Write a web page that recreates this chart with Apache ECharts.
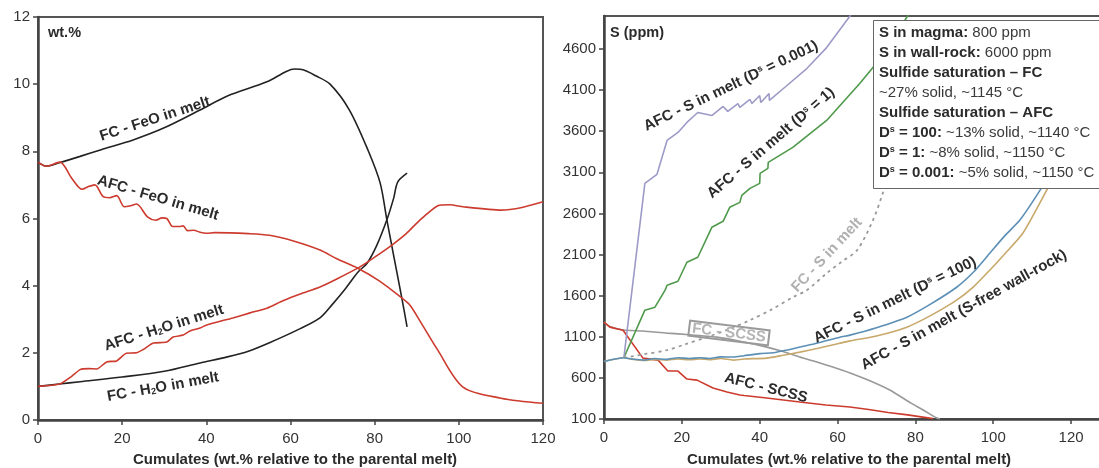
<!DOCTYPE html>
<html>
<head>
<meta charset="utf-8">
<title>FeO, H2O and S in melt</title>
<script src="https://cdn.jsdelivr.net/npm/echarts@6/dist/echarts.min.js"></script>
<style>
html, body { margin: 0; padding: 0; background: #fff; }
#chart { width: 1099px; height: 468px; }
</style>
</head>
<body>
<div id="chart"></div>
<script>
// left panel (wt.%)
var fcFeoX = [0, 2, 5, 10, 15, 22.6, 30, 38.5, 45, 54.4, 59, 61, 63, 66, 69.4, 74, 78.4, 81.3, 82.9, 84.4, 86.5, 87.7];
var fcFeoY = [7.68, 7.56, 7.66, 7.85, 8.05, 8.34, 8.7, 9.23, 9.65, 10.07, 10.38, 10.45, 10.43, 10.25, 10.0, 9.23, 8.04, 7.06, 5.96, 4.97, 3.6, 2.77];

var fcH2oX = [0, 5, 10, 20, 30, 38.5, 45, 50, 55, 62.3, 67, 70, 73, 76, 78.2, 80.5, 82.9, 84.5, 85.5, 87.7];
var fcH2oY = [1.0, 1.07, 1.14, 1.28, 1.45, 1.70, 1.88, 2.05, 2.3, 2.72, 3.04, 3.45, 3.9, 4.4, 4.67, 5.2, 5.96, 6.6, 7.09, 7.35];

var afcFeoX = [0, 2, 5.2, 8, 10.5, 12, 13.5, 15.5, 17, 18.7, 20.5, 22, 23.4, 26, 28, 29.5, 30.6, 32, 33.5, 34.5, 35.5, 37, 38.5, 40, 42, 50, 55, 60.7, 67, 71, 76, 81, 86.5, 88.4, 91, 95, 101, 110, 120];
var afcFeoY = [7.68, 7.56, 7.68, 7.2, 6.87, 6.95, 7.0, 6.65, 6.62, 6.68, 6.35, 6.38, 6.43, 6.05, 5.95, 6.02, 6.0, 5.76, 5.76, 5.78, 5.64, 5.65, 5.59, 5.56, 5.58, 5.55, 5.5, 5.33, 5.06, 4.8, 4.52, 4.15, 3.63, 3.42, 2.9, 2.08, 0.98, 0.65, 0.5];

var afcH2oX = [0, 5.2, 8, 10, 12, 14, 16.3, 18.7, 21, 23.4, 25, 27.4, 30.6, 32.1, 34.5, 36.1, 38.5, 40.1, 46.3, 50.4, 54.4, 58.2, 62.3, 67, 71, 76.5, 80, 84.1, 87.5, 90.8, 95, 97.9, 101, 110, 115, 120];
var afcH2oY = [1.0, 1.07, 1.3, 1.5, 1.53, 1.52, 1.73, 1.76, 1.99, 2.0, 2.1, 2.29, 2.32, 2.47, 2.53, 2.65, 2.74, 2.83, 3.04, 3.19, 3.33, 3.55, 3.75, 3.96, 4.2, 4.56, 4.85, 5.21, 5.55, 5.96, 6.38, 6.41, 6.35, 6.25, 6.33, 6.5];

// right panel (S, ppm)
var afcS0001X = [5.1, 10.5, 13.6, 16.2, 19, 21.3, 24.1, 27.7, 30.6, 31.8, 34.4, 34.9, 37.5, 38, 40, 40.3, 42.4, 42.5, 47, 52.1, 57.2, 63.2, 65];
var afcS0001Y = [845, 2965, 3074, 3487, 3584, 3706, 3827, 3790, 3900, 3840, 3936, 3888, 3985, 3936, 4033, 3948, 4058, 3973, 4155, 4361, 4616, 5000, 5150];

var afcS1X = [5.1, 10.5, 13.1, 15.7, 16.2, 19, 21.3, 24.1, 27.7, 30.6, 32.3, 34.9, 35.4, 37.5, 40, 40.1, 42.1, 42.2, 48.5, 57.2, 65.7, 69.1, 74, 78, 80];
var afcS1Y = [845, 1423, 1460, 1666, 1727, 1775, 2006, 2067, 2431, 2504, 2674, 2734, 2819, 2904, 2965, 3086, 3147, 3220, 3402, 3730, 4179, 4373, 4700, 5000, 5150];

var fcSX = [5.1, 10, 16.2, 21, 26.4, 32, 37.5, 43, 48.5, 52.1, 57.2, 61, 65, 69.1, 71.6, 74, 77];
var fcSY = [845, 885, 938, 1010, 1095, 1190, 1302, 1430, 1581, 1666, 1872, 2010, 2152, 2516, 2843, 3200, 3700];

var fcScssX = [0, 1.5, 5, 10, 16.2, 22, 29, 35, 41.8, 46, 50.3, 54.5, 58.8, 63.2, 68, 73.4, 79, 82, 85.5, 86.3];
var fcScssY = [1278, 1225, 1182, 1170, 1144, 1125, 1095, 1045, 974, 920, 853, 795, 731, 659, 570, 452, 290, 210, 112, 100];

var afcScssX = [0, 1.5, 4.9, 10, 13.9, 16.4, 19, 21.3, 23.9, 28, 31.6, 34.9, 36, 41.8, 50.3, 57, 63.2, 68, 73, 78, 84.5];
var afcScssY = [1278, 1217, 1180, 840, 816, 683, 683, 586, 573, 476, 428, 391, 385, 355, 306, 270, 246, 215, 180, 150, 105];

var afcS100X = [0, 5.1, 7, 10.5, 13, 16, 19, 22, 24.6, 27, 30, 33.2, 36, 40, 43.5, 47, 50.3, 54.7, 60.6, 63.2, 70, 77.8, 84, 90.6, 95, 99.1, 103, 106.8, 112, 116];
var afcS100Y = [800, 845, 830, 816, 835, 825, 845, 835, 845, 835, 855, 853, 870, 895, 905, 938, 975, 1022, 1095, 1120, 1210, 1338, 1500, 1702, 1890, 2115, 2330, 2516, 2880, 3200];

var afcSfreeX = [0, 5.1, 7, 10.5, 13, 16, 19, 22, 24.6, 27, 30, 33.2, 36, 41.8, 46, 50.3, 55, 60.6, 63.2, 70, 77.8, 84, 90.6, 95, 99.1, 103, 107.6, 113.7, 117];
var afcSfreeY = [800, 845, 828, 812, 825, 815, 830, 820, 830, 822, 835, 816, 830, 840, 875, 913, 960, 1022, 1050, 1110, 1217, 1360, 1545, 1710, 1909, 2110, 2358, 2880, 3200];

var xTitle = 'Cumulates (wt.% relative to the parental melt)';
var boxLines = [
    '{b|S in magma:} 800 ppm',
    '{b|S in wall-rock:} 6000 ppm',
    '{b|Sulfide saturation \u2013 FC}',
    '~27% solid, ~1145 \u00b0C',
    '{b|Sulfide saturation \u2013 AFC}',
    '{b|D}{bs|s}{b| = 100:} ~13% solid, ~1140 \u00b0C',
    '{b|D}{bs|s}{b| = 1:} ~8% solid, ~1150 \u00b0C',
    '{b|D}{bs|s}{b| = 0.001:} ~5% solid, ~1150 \u00b0C'
];

var FONT = '"Liberation Sans", Arial, Helvetica, sans-serif';

function zip(xs, ys) {
    var out = [];
    for (var i = 0; i < xs.length; i++) {
        out.push([xs[i], ys[i]]);
    }
    return out;
}

function axis(gridIndex, min, max, interval, hideMax, margin) {
    return {
        type: 'value',
        gridIndex: gridIndex,
        min: min,
        max: max,
        interval: interval,
        axisLine: { show: true, onZero: false, lineStyle: { color: '#444', width: 2.5 } },
        axisTick: { show: true, length: 5, lineStyle: { color: '#444', width: 1.5 } },
        axisLabel: {
            fontSize: 15, color: '#333', fontFamily: FONT, margin: margin, showMaxLabel: !hideMax,
            formatter: function(v) { return String(v); }
        },
        splitLine: { show: false }
    };
}

function line(name, xi, data, color, extra) {
    var s = {
        name: name,
        type: 'line',
        xAxisIndex: xi,
        yAxisIndex: xi,
        data: data,
        symbol: 'none',
        smooth: false,
        animation: false,
        lineStyle: { color: color, width: 1.6 }
    };
    for (var k in extra) s[k] = extra[k];
    return s;
}

var richStyles = {
    sub: { fontSize: 9, fontWeight: 'bold', fontFamily: FONT, fill: '#2b2b2b', verticalAlign: 'bottom' },
    sup: { fontSize: 9, fontWeight: 'bold', fontFamily: FONT, fill: '#2b2b2b', verticalAlign: 'top' }
};

// rotated curve labels
function label(text, x, y, deg, fill, extra) {
    var style = {
        text: text,
        fontSize: 15,
        fontWeight: 'bold',
        fontFamily: FONT,
        fill: fill || '#2b2b2b',
        align: 'center',
        verticalAlign: 'middle',
        rich: richStyles
    };
    for (var k in extra) style[k] = extra[k];
    return { type: 'text', x: x, y: y, rotation: deg * Math.PI / 180, z: 50, style: style };
}

function plainText(text, x, y, size, align, extra) {
    var style = {
        text: text,
        fontSize: size,
        fontWeight: 'bold',
        fontFamily: FONT,
        fill: '#2b2b2b',
        align: align || 'center',
        verticalAlign: 'middle'
    };
    for (var k in extra) style[k] = extra[k];
    return { type: 'text', x: x, y: y, z: 50, style: style };
}

var graphics = [
    plainText('wt.%', 48, 33, 14.5, 'left'),
    plainText('S (ppm)', 610, 33, 14.5, 'left'),
    plainText(xTitle, 295, 460, 15),
    plainText(xTitle, 849, 460, 15),
    label('FC - FeO in melt', 155, 119, 18),
    label('AFC - FeO in melt', 158, 198, -16.5),
    label('AFC - H{sub|2}O in melt', 164, 328, 17.5),
    label('FC - H{sub|2}O in melt', 163, 387, 10),
    label('AFC - S in melt (D{sup|s} = 0.001)', 731, 86, 25.5),
    label('AFC - S in melt (D{sup|s} = 1)', 771, 143, 40.5),
    label('FC - S in melt', 827, 255, 47, '#b0b0b0'),
    label('FC - SCSS', 729, 333, -7, '#b4b4b4', { borderColor: '#9a9a9a', borderWidth: 1, padding: [0, 3, 0, 3], backgroundColor: 'rgba(255,255,255,0)' }),
    label('AFC - SCSS', 766, 388, -14),
    label('AFC - S in melt (D{sup|s} = 100)', 895, 300, 26),
    label('AFC - S in melt (S-free wall-rock)', 964, 310, 29),
    {
        type: 'rect',
        z: 60,
        shape: { x: 873.5, y: 20.5, width: 240, height: 168 },
        style: { fill: '#fff', stroke: '#666', lineWidth: 1 }
    }
];

var boxRich = {
    b: { fontSize: 15, fontWeight: 'bold', fontFamily: FONT, fill: '#2b2b2b' },
    bs: { fontSize: 9, fontWeight: 'bold', fontFamily: FONT, fill: '#2b2b2b', verticalAlign: 'top' }
};
for (var i = 0; i < boxLines.length; i++) {
    graphics.push({
        type: 'text',
        x: 879,
        y: 33 + i * 20,
        z: 70,
        style: {
            text: boxLines[i],
            fontSize: 15,
            fontFamily: FONT,
            fill: '#3a3a3a',
            align: 'left',
            verticalAlign: 'middle',
            rich: boxRich
        }
    });
}

var chart = echarts.init(document.getElementById('chart'), null, { renderer: 'canvas' });
var option = {
    backgroundColor: '#fff',
    animation: false,
    grid: [
        { left: 38, top: 17, width: 505, height: 403, show: true, borderColor: '#555', borderWidth: 2, backgroundColor: 'transparent', outerBoundsMode: 'none', containLabel: false },
        { left: 604, top: 16, width: 506, height: 403, show: true, borderColor: '#555', borderWidth: 2, backgroundColor: 'transparent', outerBoundsMode: 'none', containLabel: false }
    ],
    xAxis: [
        axis(0, 0, 120, 20, false, 11),
        axis(1, 0, 130, 20, true, 11)
    ],
    yAxis: [
        axis(0, 0, 12, 2, false, 8),
        axis(1, 100, 5000, 500, true, 8)
    ],
    series: [
        line('FC - FeO in melt', 0, zip(fcFeoX, fcFeoY), '#222', { smooth: 0.3 }),
        line('FC - H2O in melt', 0, zip(fcH2oX, fcH2oY), '#222', { smooth: 0.3 }),
        line('AFC - FeO in melt', 0, zip(afcFeoX, afcFeoY), '#cc3b2e', { smooth: 0.3 }),
        line('AFC - H2O in melt', 0, zip(afcH2oX, afcH2oY), '#cc3b2e', { smooth: 0.2 }),
        line('FC - SCSS', 1, zip(fcScssX, fcScssY), '#999', { smooth: 0.2 }),
        line('AFC - SCSS', 1, zip(afcScssX, afcScssY), '#cc3b2e'),
        line('FC - S in melt', 1, zip(fcSX, fcSY), '#999', { smooth: 0.3, lineStyle: { color: '#9a9a9a', width: 1.8, type: [3, 4] } }),
        line('AFC - S in melt (S-free wall-rock)', 1, zip(afcSfreeX, afcSfreeY), '#c8a86b', { smooth: 0.2 }),
        line('AFC - S in melt (Ds = 100)', 1, zip(afcS100X, afcS100Y), '#5b8fb5', { smooth: 0.2 }),
        line('AFC - S in melt (Ds = 1)', 1, zip(afcS1X, afcS1Y), '#4f9a4a'),
        line('AFC - S in melt (Ds = 0.001)', 1, zip(afcS0001X, afcS0001Y), '#9d9ac8')
    ],
    graphic: graphics
};
chart.setOption(option);
</script>
</body>
</html>
